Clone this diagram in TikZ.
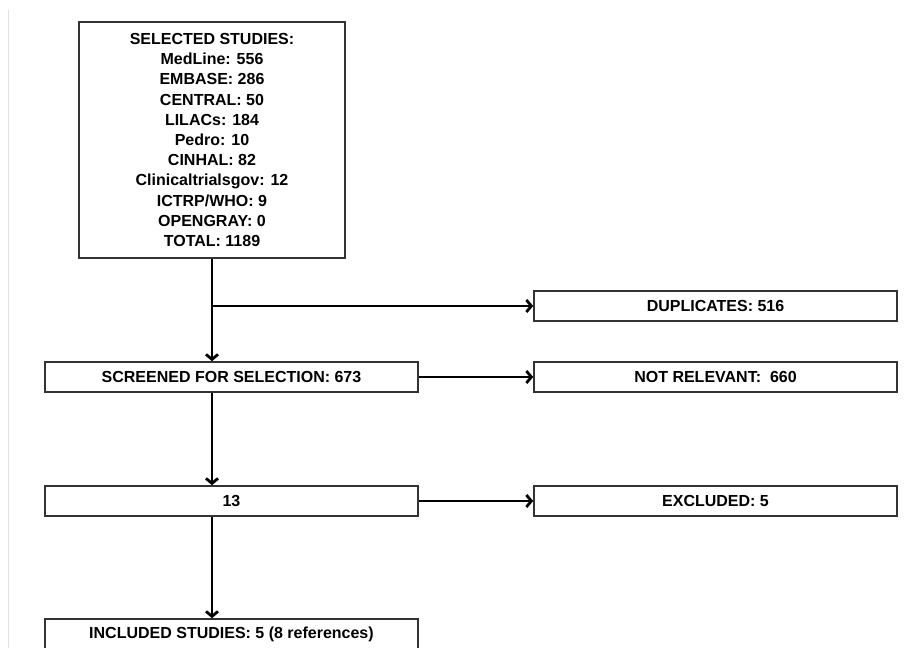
\documentclass[tikz,border=0pt]{standalone}
\usepackage{fontspec}
\setmainfont{Liberation Sans}
\usetikzlibrary{arrows.meta}
\begin{document}
\begin{tikzpicture}[x=1pt,y=-1pt,
  box/.style={draw=black!80, line width=1.6pt, inner sep=0pt, align=center,
    font=\bfseries\fontsize{16}{20.2}\selectfont},
  wide/.style={box, minimum width=373pt, minimum height=30pt},
  side/.style={box, minimum width=363pt, minimum height=30pt},
  conn/.style={line width=2.8pt, -{Straight Barb[length=5pt,width=12pt]}}
]
\useasboundingbox (0,0) rectangle (914,648);
\clip (0,0) rectangle (914,648);
\draw[black!12, line width=0.8pt] (8,10) -- (8,648);

\node[box, minimum width=266pt, minimum height=236pt] (sel) at (212,140)
  {SELECTED STUDIES:\\ MedLine: 556\\ EMBASE: 286\\ CENTRAL: 50\\ LILACs: 184\\
   Pedro: 10\\ CINHAL: 82\\ Clinicaltrialsgov: 12\\ ICTRP/WHO: 9\\ OPENGRAY: 0\\ TOTAL: 1189};

\node[side] (dup) at (715.5,306) {DUPLICATES: 516};
\node[wide] (scr) at (231.5,377) {SCREENED FOR SELECTION: 673};
\node[side] (nr) at (715.5,377) {NOT RELEVANT:\ \ 660};
\node[wide] (thr) at (231.5,501) {13};
\node[side] (exc) at (715.5,501) {EXCLUDED: 5};
\node[wide, minimum height=31pt] (inc) at (231.5,634.5) {INCLUDED STUDIES: 5 (8 references)};

\coordinate (br) at (sel.south |- dup.west);
\draw[conn] (sel.south) -- (sel.south |- scr.north);
\draw[conn] (br) -- (dup.west);
\draw[conn] (scr.east) -- (nr.west);
\draw[conn] (sel.south |- scr.south) -- (sel.south |- thr.north);
\draw[conn] (thr.east) -- (exc.west);
\draw[conn] (sel.south |- thr.south) -- (sel.south |- inc.north);
\end{tikzpicture}
\end{document}
